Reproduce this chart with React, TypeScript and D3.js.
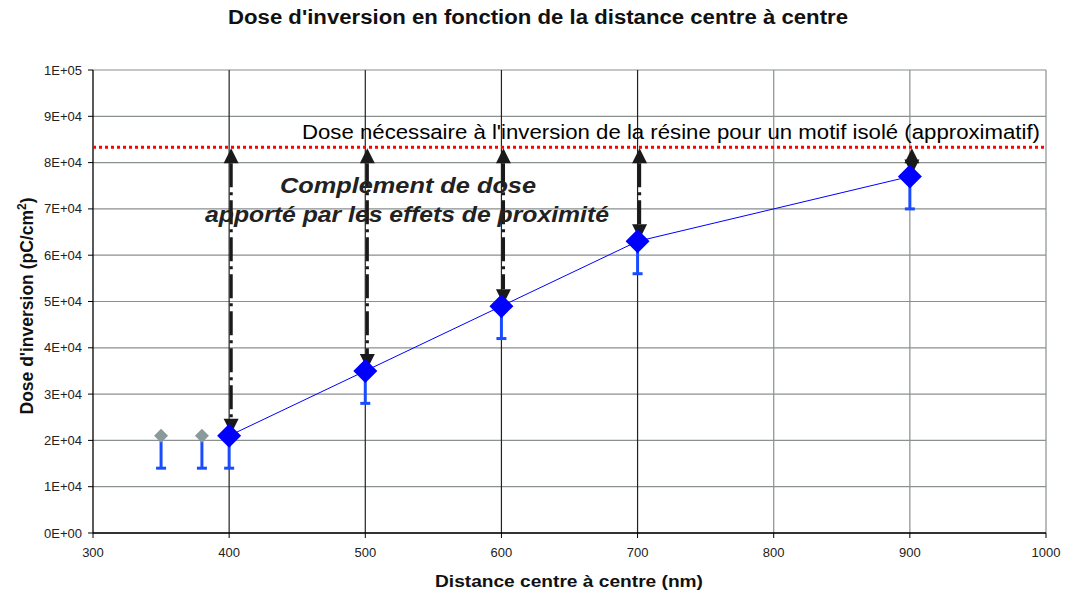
import React from "react";
import * as d3 from "d3";

const distances = [400, 500, 600, 700, 900];
const doses = [21000, 35000, 49000, 63000, 77000];
const errMinus = [7000, 7000, 7000, 7000, 7000];
const greyDistances = [350, 380];
const greyDoses = [21000, 21000];
const greyErrMinus = [7000, 7000];
const isolatedDose = 83300;
const arrowDistances = [400, 500, 600, 700, 900];
const xTicks = [300, 400, 500, 600, 700, 800, 900, 1000];
const yTicks = [0, 10000, 20000, 30000, 40000, 50000, 60000, 70000, 80000, 90000, 100000];
const yTickLabels = ["0E+00", "1E+04", "2E+04", "3E+04", "4E+04", "5E+04", "6E+04", "7E+04", "8E+04", "9E+04", "1E+05"];
const darkVerticals = [400, 500, 600, 700];

const W = 1065, H = 594;
const L = 93, R = 1046, T = 70, B = 533;
const FONT = "'Liberation Sans', Arial, sans-serif";

export default function App() {
  const x = d3.scaleLinear().domain([300, 1000]).range([L, R]);
  const y = d3.scaleLinear().domain([0, 100000]).range([B, T]);
  const line = d3.line<number>().x((_, i) => x(distances[i])).y((d) => y(d));
  const diamond = (cx: number, cy: number, r: number) =>
    `M${cx},${cy - r}L${cx + r},${cy}L${cx},${cy + r}L${cx - r},${cy}Z`;
  const redY = y(isolatedDose);

  return (
    <svg width={W} height={H} style={{ position: "absolute", left: 0, top: 0, background: "#fff" }} fontFamily={FONT}>
      {/* horizontal grid */}
      {yTicks.map((t) => (
        <line key={"h" + t} x1={L} x2={R} y1={y(t)} y2={y(t)} stroke="#8a8f8f" strokeWidth={1.2} />
      ))}
      {/* vertical grid */}
      {xTicks.filter((t) => t > 300).map((t) => (
        <line key={"v" + t} x1={x(t)} x2={x(t)} y1={T} y2={B}
          stroke={darkVerticals.includes(t) ? "#222" : "#8a8f8f"} strokeWidth={1.2} />
      ))}
      {/* axes */}
      <line x1={L} x2={L} y1={T} y2={B} stroke="#000" strokeWidth={1.3} />
      <line x1={L} x2={R} y1={B} y2={B} stroke="#000" strokeWidth={1.3} />
      {yTicks.map((t, i) => (
        <g key={"yt" + t}>
          <line x1={L - 5} x2={L} y1={y(t)} y2={y(t)} stroke="#000" />
          <text x={L - 11} y={y(t) + 4.5} fontSize={13} textAnchor="end" fill="#222">{yTickLabels[i]}</text>
        </g>
      ))}
      {xTicks.map((t) => (
        <g key={"xt" + t}>
          <line x1={x(t)} x2={x(t)} y1={B} y2={B + 5} stroke="#000" />
          <text x={x(t)} y={B + 24} fontSize={13} textAnchor="middle" fill="#222">{t}</text>
        </g>
      ))}
      {/* red dotted line */}
      <line x1={L} x2={R} y1={redY} y2={redY} stroke="#ff0000" strokeWidth={3} strokeDasharray="3,3" />
      <text x={302} y={redY - 8} fontSize={20.5} textLength={738} lengthAdjust="spacingAndGlyphs" fill="#000">
        Dose nécessaire à l'inversion de la résine pour un motif isolé (approximatif)
      </text>
      {/* error bars */}
      {distances.map((d, i) => (
        <g key={"e" + d} stroke="#1a4cff" strokeWidth={3}>
          <line x1={x(d)} x2={x(d)} y1={y(doses[i])} y2={y(doses[i] - errMinus[i])} />
          <line x1={x(d) - 5} x2={x(d) + 5} y1={y(doses[i] - errMinus[i])} y2={y(doses[i] - errMinus[i])} />
        </g>
      ))}
      {greyDistances.map((d, i) => (
        <g key={"ge" + d} stroke="#1a4cff" strokeWidth={3}>
          <line x1={x(d)} x2={x(d)} y1={y(greyDoses[i])} y2={y(greyDoses[i] - greyErrMinus[i])} />
          <line x1={x(d) - 5} x2={x(d) + 5} y1={y(greyDoses[i] - greyErrMinus[i])} y2={y(greyDoses[i] - greyErrMinus[i])} />
        </g>
      ))}
      {/* line */}
      <path d={line(doses) || ""} fill="none" stroke="#0000ff" strokeWidth={1} />
      {/* grey points */}
      {greyDistances.map((d, i) => (
        <path key={"gp" + d} d={diamond(x(d), y(greyDoses[i]), 7)} fill="#8a9a9a" />
      ))}
      {/* arrows */}
      {arrowDistances.map((d) => {
        const i = distances.indexOf(d);
        const ax = x(d) + 2;
        const top = redY + 1;
        const bot = y(doses[i]) - 2;
        const ah = 15, aw = 7.5;
        return (
          <g key={"a" + d}>
            {bot - top > 2 * ah + 2 && (
              <line x1={ax} x2={ax} y1={top + ah} y2={bot - ah} stroke="#1a1a1a" strokeWidth={3.2}
                strokeDasharray="24,5,3,5" />
            )}
            <path d={`M${ax},${top}L${ax + aw},${top + ah}L${ax - aw},${top + ah}Z`} fill="#1a1a1a" />
            <path d={`M${ax},${bot}L${ax + aw},${bot - ah}L${ax - aw},${bot - ah}Z`} fill="#1a1a1a" />
          </g>
        );
      })}
      {/* main points */}
      {distances.map((d, i) => (
        <path key={"p" + d} d={diamond(x(d), y(doses[i]), 12)} fill="#0000ff" />
      ))}
      {/* annotation */}
      <text x={280} y={193} fontSize={22} fontWeight="bold" fontStyle="italic" textLength={256} lengthAdjust="spacingAndGlyphs" fill="#222">
        Complement  de dose
      </text>
      <text x={205} y={222} fontSize={22} fontWeight="bold" fontStyle="italic" textLength={404} lengthAdjust="spacingAndGlyphs" fill="#222">
        apporté par les effets de proximité
      </text>
      {/* titles */}
      <text x={228} y={24} fontSize={19.5} fontWeight="bold" textLength={620} lengthAdjust="spacingAndGlyphs" fill="#111">
        Dose d'inversion en fonction de la distance centre à centre
      </text>
      <text x={435} y={587} fontSize={17} fontWeight="bold" textLength={268} lengthAdjust="spacingAndGlyphs" fill="#111">
        Distance centre à centre (nm)
      </text>
      <text transform={`translate(33,306) rotate(-90)`} fontSize={17.5} fontWeight="bold" textAnchor="middle" fill="#111">
        Dose d'inversion (pC/cm<tspan dy={-7} fontSize={12}>2</tspan><tspan dy={7}>)</tspan>
      </text>
    </svg>
  );
}
